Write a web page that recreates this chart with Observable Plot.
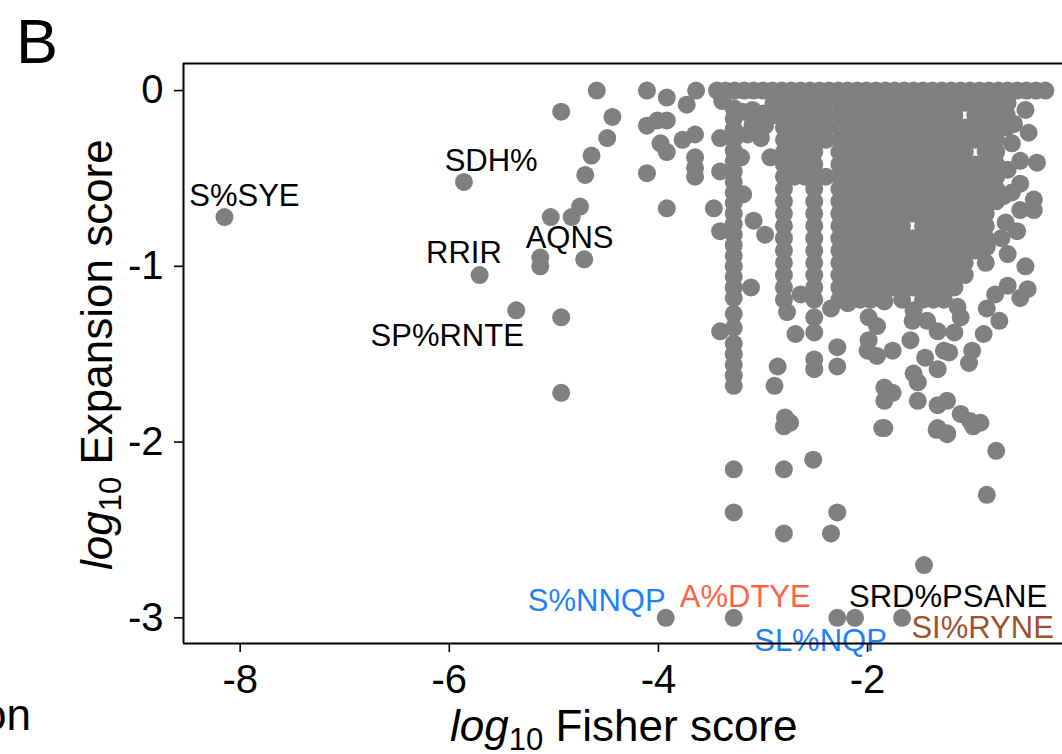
<!DOCTYPE html>
<html><head><meta charset="utf-8">
<script src="https://cdn.jsdelivr.net/npm/d3@7"></script>
<script src="https://cdn.jsdelivr.net/npm/@observablehq/plot@0.6"></script>
<style>
body{margin:0;background:#fff;}
#wrap{position:relative;width:1062px;height:754px;overflow:hidden;}
</style></head><body><div id="wrap"></div>
<script>
const xTicks = [-8, -6, -4, -2];
const yTicks = [0, -1, -2, -3];
const xDomain = [-8.542, -0.136];
const yDomain = [-3.146, 0.154];

// isolated points on the left
const sparsePoints = [[-8.15,-0.72],[-5.86,-0.52],[-5.71,-1.05],[-5.36,-1.25],[-4.93,-1.29],[-4.93,-1.72],[-5.13,-0.95],[-5.13,-1.00],[-4.71,-0.96],[-5.03,-0.72],[-4.83,-0.72],[-4.75,-0.66],[-4.70,-0.48],[-4.64,-0.37],[-4.93,-0.12],[-4.59,0.00],[-4.44,-0.15],[-4.49,-0.27],[-4.11,0.00],[-3.92,-0.04],[-3.73,-0.08],[-3.64,0.00],[-4.11,-0.20],[-4.01,-0.17],[-3.92,-0.17],[-4.11,-0.47],[-3.98,-0.30],[-3.92,-0.35],[-3.92,-0.67],[-3.77,-0.28],[-3.65,-0.25],[-3.65,-0.38],[-3.65,-0.44],[-3.65,-0.49]];

// low expansion points
const lowPoints = [[-3.93,-3.00],[-3.28,-3.00],[-2.29,-3.00],[-2.12,-3.00],[-1.67,-3.00],[-3.28,-2.155],[-3.28,-2.40],[-2.80,-2.155],[-2.52,-2.10],[-2.29,-2.40],[-2.80,-2.52],[-2.35,-2.52],[-1.46,-2.70],[-0.77,-2.05],[-0.86,-2.30]];

// middle band scatter
const midPoints = [[-3.41,-1.37],[-3.115,-1.12],[-2.86,-1.57],[-2.89,-1.68],[-2.79,-1.86],[-2.80,-1.91],[-2.74,-1.89],[-2.69,-1.385],[-2.64,-1.16],[-2.77,-1.26],[-2.51,-1.29],[-2.51,-1.376],[-2.51,-1.53],[-2.51,-1.585],[-2.29,-1.46],[-2.29,-1.57],[-2.35,-1.24],[-1.99,-1.29],[-1.91,-1.34],[-1.99,-1.42],[-2.00,-1.48],[-1.91,-1.51],[-1.76,-1.48],[-1.84,-1.20],[-1.84,-1.69],[-1.84,-1.765],[-1.76,-1.72],[-1.84,-1.92],[-1.59,-1.42],[-1.57,-1.31],[-1.56,-1.25],[-1.45,-1.52],[-1.33,-1.585],[-1.56,-1.61],[-1.52,-1.66],[-1.52,-1.765],[-1.33,-1.79],[-1.24,-1.765],[-1.11,-1.84],[-1.33,-1.92],[-1.24,-1.95],[-1.02,-1.88],[-0.92,-1.89],[-1.27,-1.48],[-1.22,-1.49],[-1.00,-1.48],[-1.03,-1.55],[-0.89,-1.385],[-0.86,-1.24],[-0.74,-1.31],[-0.54,-1.18],[-0.47,-1.13],[-0.49,-1.00],[-0.66,-1.11],[-0.78,-1.16],[-0.66,-0.93],[-0.86,-0.89],[-1.17,-1.376],[-1.14,-1.23],[-1.11,-1.29],[-1.43,-1.31],[-1.33,-1.37],[-2.19,-1.21],[-1.86,-1.92],[-1.34,-1.93],[-1.24,-1.955],[-0.99,-1.91]];

// right edge points
const rightPoints = [[-0.49,-0.11],[-0.46,-0.24],[-0.60,-0.19],[-0.38,-0.41],[-0.54,-0.40],[-0.41,-0.62],[-0.41,-0.68],[-0.54,-0.68],[-0.57,-0.80],[-0.54,-0.53],[-0.66,-0.07],[-0.62,-0.30],[-0.66,-0.45],[-0.70,-0.60],[-0.68,-0.75],[-0.72,-0.84],[-0.62,-0.58],[-0.67,-0.14],[-0.67,-0.21]];

// points near the columns at -3.3 .. -2.9
const columnPoints = [[-3.28,-0.10],[-3.28,-0.16],[-3.28,-0.22],[-3.28,-0.28],[-3.28,-0.34],[-3.28,-0.40],[-3.28,-0.46],[-3.28,-0.52],[-3.28,-0.58],[-3.28,-0.64],[-3.28,-0.70],[-3.28,-0.76],[-3.28,-0.82],[-3.28,-0.88],[-3.28,-0.94],[-3.28,-1.00],[-3.28,-1.06],[-3.28,-1.12],[-3.28,-1.18],[-3.28,-1.27],[-3.28,-1.35],[-3.28,-1.44],[-3.28,-1.50],[-3.28,-1.56],[-3.28,-1.62],[-3.28,-1.68],[-3.39,-0.06],[-3.41,-0.27],[-3.41,-0.46],[-3.47,-0.67],[-3.41,-0.80],[-3.20,-0.12],[-3.10,-0.11],[-3.00,-0.13],[-3.10,-0.19],[-2.98,-0.20],[-3.15,-0.25],[-3.02,-0.27],[-2.93,-0.38],[-3.21,-0.38],[-3.19,-0.59],[-3.09,-0.74],[-2.98,-0.82]];

// the row at expansion score 0
const topRowX = [-3.44,-3.36,-3.27,-3.18,-3.09,-3.00,-2.91,-2.82,-2.73,-2.64,-2.55,-2.46,-2.37,-2.28,-2.19,-2.10,-2.01,-1.92,-1.83,-1.74,-1.65,-1.56,-1.47,-1.38,-1.29,-1.20,-1.11,-1.02,-0.93,-0.84,-0.75,-0.66,-0.57,-0.48,-0.39,-0.30];

// dense block, one row per expansion level
const denseRows = [
 [-0.07, [-2.90,-2.80,-2.70,-2.60,-2.51,-2.40,-2.27,-2.17,-2.07,-1.97,-1.87,-1.77,-1.67,-1.57,-1.47,-1.37,-1.27,-1.17,-1.07,-0.97,-0.87,-0.77]],
 [-0.14, [-2.90,-2.80,-2.70,-2.60,-2.51,-2.40,-2.27,-2.17,-2.07,-1.97,-1.87,-1.77,-1.67,-1.57,-1.47,-1.37,-1.27,-1.17,-0.97,-0.87,-0.77]],
 [-0.21, [-2.80,-2.70,-2.60,-2.51,-2.40,-2.27,-2.17,-2.07,-1.97,-1.87,-1.77,-1.67,-1.57,-1.47,-1.37,-1.27,-1.17,-1.07,-0.97,-0.87,-0.77]],
 [-0.28, [-2.80,-2.70,-2.60,-2.51,-2.40,-2.27,-2.17,-2.07,-1.97,-1.87,-1.77,-1.67,-1.57,-1.47,-1.37,-1.27,-1.17,-1.07,-0.97,-0.87,-0.77]],
 [-0.35, [-2.80,-2.70,-2.60,-2.51,-2.27,-2.17,-2.07,-1.97,-1.87,-1.77,-1.67,-1.57,-1.47,-1.37,-1.27,-1.17,-1.07,-0.87,-0.77]],
 [-0.42, [-2.80,-2.70,-2.60,-2.51,-2.27,-2.17,-2.07,-1.97,-1.87,-1.77,-1.67,-1.57,-1.47,-1.37,-1.27,-1.17,-1.07,-0.97,-0.87,-0.77]],
 [-0.49, [-2.80,-2.70,-2.60,-2.51,-2.40,-2.27,-2.17,-2.07,-1.97,-1.87,-1.77,-1.67,-1.57,-1.47,-1.37,-1.27,-1.17,-1.07,-0.97,-0.87,-0.77]],
 [-0.56, [-2.80,-2.51,-2.27,-2.17,-2.07,-1.97,-1.87,-1.77,-1.67,-1.57,-1.47,-1.37,-1.27,-1.17,-1.07,-0.97,-0.87,-0.77]],
 [-0.63, [-2.80,-2.51,-2.27,-2.17,-2.07,-1.97,-1.87,-1.77,-1.67,-1.57,-1.47,-1.37,-1.27,-1.17,-1.07,-0.97,-0.87,-0.77]],
 [-0.70, [-2.80,-2.51,-2.27,-2.17,-2.07,-1.97,-1.87,-1.77,-1.67,-1.57,-1.47,-1.37,-1.27,-1.17,-1.07,-0.97,-0.87]],
 [-0.77, [-2.80,-2.51,-2.27,-2.17,-2.07,-1.97,-1.87,-1.77,-1.67,-1.47,-1.37,-1.27,-1.17,-1.07,-0.97,-0.87]],
 [-0.84, [-2.80,-2.51,-2.27,-2.17,-2.07,-1.97,-1.87,-1.77,-1.67,-1.57,-1.47,-1.37,-1.27,-1.17,-1.07,-0.97,-0.87]],
 [-0.91, [-2.80,-2.51,-2.27,-2.17,-2.07,-1.97,-1.87,-1.77,-1.67,-1.57,-1.47,-1.37,-1.27,-1.17,-1.07,-0.97]],
 [-0.98, [-2.80,-2.51,-2.27,-2.17,-2.07,-1.97,-1.87,-1.77,-1.67,-1.57,-1.47,-1.37,-1.27,-1.17,-1.07,-0.87]],
 [-1.05, [-2.80,-2.51,-2.27,-2.17,-2.07,-1.97,-1.87,-1.77,-1.67,-1.57,-1.47,-1.37,-1.27,-1.17,-1.07]],
 [-1.12, [-2.80,-2.51,-2.27,-2.17,-2.07,-1.97,-1.87,-1.77,-1.67,-1.57,-1.47,-1.37,-1.27,-1.17]],
 [-1.19, [-2.80,-2.51,-2.27,-2.17,-2.07,-1.97,-1.67,-1.47,-1.37,-1.27]]
];

const labelText = ["S%SYE","SDH%","RRIR","AQNS","SP%RNTE","S%NNQP","A%DTYE","SRD%PSANE","SL%NQP","SI%RYNE"];
const labelX = [-7.96,-5.60,-5.86,-4.85,-6.02,-4.59,-3.17,-1.23,-2.45,-0.90];
const labelY = [-0.655,-0.456,-0.98,-0.894,-1.452,-2.962,-2.936,-2.936,-3.189,-3.115];
const labelColor = ["#000000","#000000","#000000","#000000","#000000","#1f7fff","#ff6347","#000000","#1f7fff","#a0522d"];

const points = [
  ...sparsePoints, ...lowPoints, ...midPoints, ...rightPoints, ...columnPoints,
  ...topRowX.map(x => [x, 0]),
  ...denseRows.flatMap(([y, xs]) => xs.map(x => [x, y]))
];
const labels = labelText.map((t, i) => ({text: t, x: labelX[i], y: labelY[i], color: labelColor[i]}));

const FONT = "'Liberation Sans', Arial, Helvetica, sans-serif";

const chart = Plot.plot({
  width: 1062, height: 754,
  marginLeft: 183, marginRight: 0, marginTop: 63, marginBottom: 111,
  style: {fontFamily: FONT, background: "white", color: "black", overflow: "visible"},
  x: {domain: xDomain},
  y: {domain: yDomain},
  color: {type: "identity"},
  marks: [
    Plot.dot(points, {x: d => d[0], y: d => d[1], r: 9, fill: "#808080", stroke: null}),
    Plot.text(labels, {x: "x", y: "y", text: "text", fill: "color", fontSize: 31, textAnchor: "middle", lineAnchor: "bottom"}),
    Plot.axisX({ticks: xTicks, tickSize: 9, tickPadding: 12, fontSize: 40, tickFormat: d => String(d), label: null, strokeWidth: 1.6}),
    Plot.axisY({ticks: yTicks, tickSize: 9, tickPadding: 11, fontSize: 40, tickFormat: d => String(d), label: null, strokeWidth: 1.6}),
    Plot.ruleX([xDomain[0]], {strokeWidth: 2, stroke: "black"}),
    Plot.ruleY([yDomain[0], yDomain[1]], {strokeWidth: 2, stroke: "black"})
  ]
});

const svg = d3.select(chart);
svg.append("text").attr("x", 16).attr("y", 63).attr("text-anchor", "start").attr("font-size", 63).attr("font-family", FONT).attr("fill", "black").text("B");
svg.append("text").attr("x", 31).attr("y", 730).attr("text-anchor", "end").attr("font-size", 44).attr("font-family", FONT).attr("fill", "black").text("on");

function mathTitle(sel, rest) {
  sel.attr("font-size", 44).attr("font-family", FONT).attr("fill", "black").attr("text-anchor", "start");
  sel.append("tspan").attr("font-style", "italic").text("log");
  sel.append("tspan").attr("font-size", 31).attr("dy", 9).text("10");
  sel.append("tspan").attr("dy", -9).text(rest);
}
mathTitle(svg.append("text").attr("x", 450).attr("y", 741), " Fisher score");
mathTitle(svg.append("text").attr("transform", "translate(112,570) rotate(-90)"), " Expansion score");

document.getElementById("wrap").appendChild(chart);
</script></body></html>
